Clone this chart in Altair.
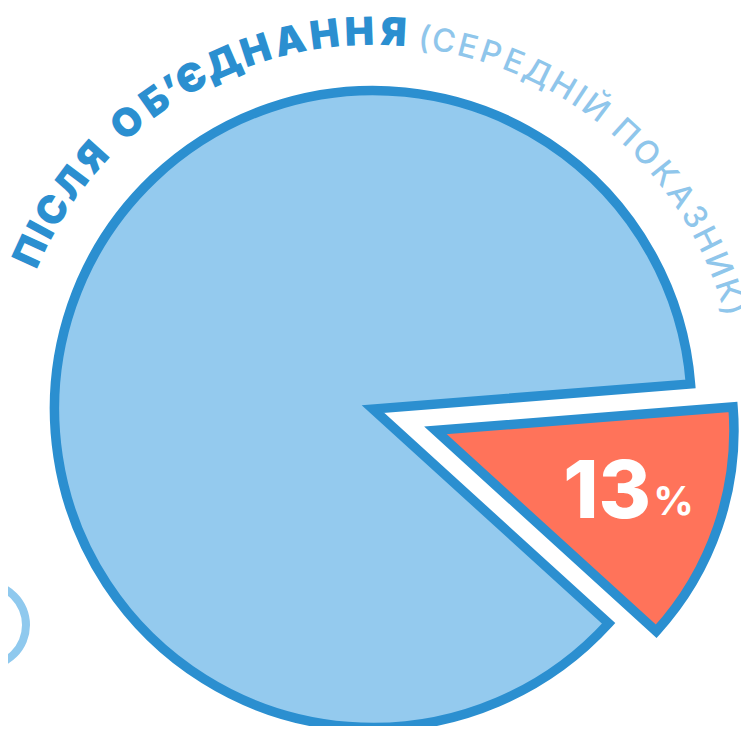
import math
import altair as alt
import pandas as pd

# ---------------- data ----------------
categories = ["Після об’єднання", "Решта"]
shares = [13, 87]
unit_text = "%"
title_bold = "ПІСЛЯ ОБ’ЄДНАННЯ"
title_light = "(СЕРЕДНІЙ ПОКАЗНИК)"

# ---------------- layout / style ----------------
W, H = 733, 718
CX, CY = 365, 401            # pie centre (chart pixels)
R_MAIN, R_RED = 318.5, 298.5
EXPLODE = 66
LABEL_R = 190
START = math.radians(85.5)
TAU = 2 * math.pi
RB = 364                     # baseline radius of curved title
BLUE_STROKE = "#2b8fd0"
BLUE_FILL = "#94caee"
RED_FILL = "#ff735a"
LIGHT_TEXT = "#8fc6eb"
FONT = "Inter"

pie_df = pd.DataFrame({"category": categories, "share": shares,
                       "idx": list(range(len(categories)))})

base = (
    alt.Chart(pie_df)
    .transform_window(cum="sum(share)", sort=[alt.SortField("idx")], frame=[None, 0])
    .transform_joinaggregate(total="sum(share)")
    .transform_calculate(s0="(datum.cum - datum.share) / datum.total * 100")
    .transform_calculate(s1="datum.cum / datum.total * 100")
    .transform_calculate(tm=f"{START} + {TAU} * (datum.cum - datum.share / 2) / datum.total")
    .transform_calculate(ex=f"datum.idx === 0 ? {EXPLODE} : 0")
    .transform_calculate(rr=f"datum.idx === 0 ? {R_RED} : {R_MAIN}")
    .transform_calculate(px=f"{CX} + datum.ex * sin(datum.tm)")
    .transform_calculate(py=f"{CY} - datum.ex * cos(datum.tm)")
)

pie = base.mark_arc(stroke=BLUE_STROKE, strokeWidth=9.5, strokeJoin="miter").encode(
    x=alt.X("px:Q", scale=None, axis=None),
    y=alt.Y("py:Q", scale=None, axis=None),
    theta=alt.Theta("s0:Q", stack=False,
                    scale=alt.Scale(domain=[0, 100], range=[START, START + TAU])),
    theta2=alt.Theta2("s1:Q"),
    radius=alt.Radius("rr:Q", scale=None),
    color=alt.Color("category:N", legend=None,
                    scale=alt.Scale(domain=categories, range=[RED_FILL, BLUE_FILL])),
)

lab_base = (
    base.transform_filter("datum.idx === 0")
    .transform_calculate(lx=f"datum.px + {LABEL_R} * sin(datum.tm)")
    .transform_calculate(ly=f"datum.py - {LABEL_R} * cos(datum.tm)")
)
num = lab_base.mark_text(font=FONT, fontSize=80, fontWeight=800, color="white",
                         align="center", baseline="middle", dx=-8, dy=2).encode(
    x=alt.X("lx:Q", scale=None, axis=None),
    y=alt.Y("ly:Q", scale=None, axis=None),
    text=alt.Text("share:Q"),
)
pct = lab_base.mark_text(font=FONT, fontSize=40, fontWeight=700, color="white",
                         align="left", baseline="middle", dx=38, dy=11,
                         text=unit_text).encode(
    x=alt.X("lx:Q", scale=None, axis=None),
    y=alt.Y("ly:Q", scale=None, axis=None),
)

# ---------------- curved title ----------------
EM_W = {"П": 0.74, "І": 0.30, "С": 0.70, "Л": 0.74, "Я": 0.72, " ": 0.30,
        "О": 0.82, "Б": 0.70, "’": 0.24, "Є": 0.70, "Д": 0.80, "Н": 0.76,
        "А": 0.78, "(": 0.36, "Е": 0.64, "Р": 0.68, "Й": 0.78, "К": 0.70,
        "З": 0.62, "И": 0.78, ")": 0.36}


def seg_layout(text, a0, a1):
    ws = [EM_W.get(c, 0.7) for c in text]
    centers, acc = [], 0.0
    for w in ws:
        centers.append(acc + w / 2)
        acc += w
    c0, c1 = centers[0], centers[-1]
    return [a0 + (c - c0) / (c1 - c0) * (a1 - a0) for c in centers]


rows = []
for ch, th in zip(title_bold, seg_layout(title_bold, -65.3, 3.1)):
    if ch != " ":
        rows.append({"ch": ch, "th": th, "seg": "bold"})
for ch, th in zip(title_light, seg_layout(title_light, 7.9, 74.5)):
    if ch != " ":
        rows.append({"ch": ch, "th": th, "seg": "light"})
title_df = pd.DataFrame(rows)

tbase = (
    alt.Chart(title_df)
    .transform_calculate(tx=f"{CX} + {RB} * sin(datum.th * PI / 180)")
    .transform_calculate(ty=f"{CY} - {RB} * cos(datum.th * PI / 180)")
    .transform_calculate(ang="(datum.th + 360) % 360")
)
tenc = dict(
    x=alt.X("tx:Q", scale=None, axis=None),
    y=alt.Y("ty:Q", scale=None, axis=None),
    angle=alt.Angle("ang:Q", scale=None),
    text=alt.Text("ch:N"),
)
t_bold = tbase.transform_filter("datum.seg === 'bold'").mark_text(
    font=FONT, fontSize=39, fontWeight=900, color=BLUE_STROKE,
    align="center", baseline="alphabetic").encode(**tenc)
t_light = tbase.transform_filter("datum.seg === 'light'").mark_text(
    font=FONT, fontSize=32, fontWeight=500, color=LIGHT_TEXT,
    align="center", baseline="alphabetic").encode(**tenc)

# decorative ring at lower left
ring = alt.Chart(pd.DataFrame({"k": [0]})).mark_arc(
    theta=0, theta2=TAU, innerRadius=37, radius=45, color="#8fc9ee").encode(
    x=alt.value(-23), y=alt.value(617))

chart = alt.layer(pie, num, pct, t_bold, t_light, ring).properties(
    width=W, height=H, padding=0, autosize="none"
).configure_view(stroke="transparent")

chart.save("out.html", embed_options={"renderer": "svg", "actions": False})
